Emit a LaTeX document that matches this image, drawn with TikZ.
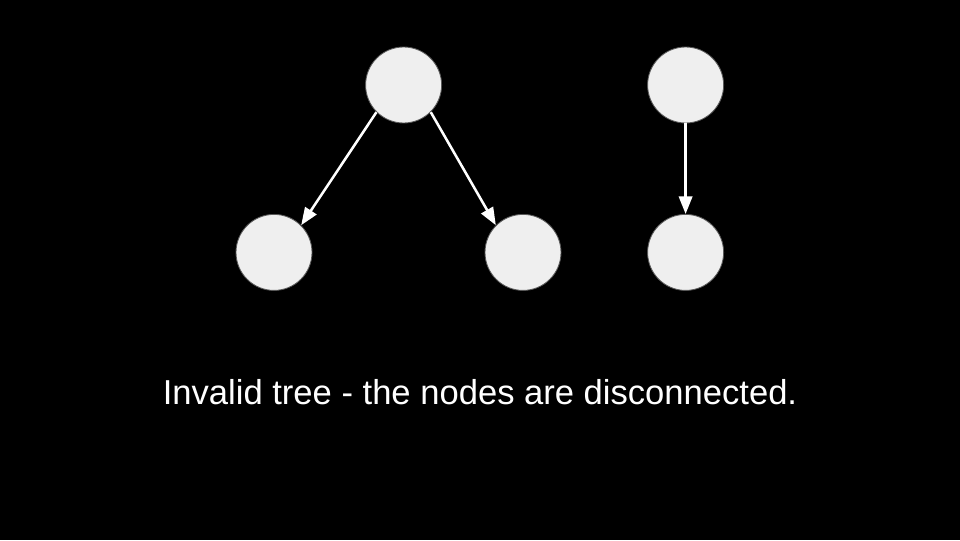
\documentclass[tikz,border=0pt]{standalone}
\usepackage{fontspec}
\setmainfont{Liberation Sans}
\usetikzlibrary{arrows.meta}
\definecolor{nodefill}{HTML}{EFEFEF}
\definecolor{nodeline}{HTML}{595959}
\tikzset{
  treenode/.style={circle, fill=nodefill, draw=nodeline, line width=0.6pt, minimum size=1.9cm, inner sep=0pt},
  edge/.style={draw=white, line width=1.8pt, -{Triangle[length=12.5pt,width=9.5pt]}},
}

\begin{document}
\begin{tikzpicture}
\fill[black] (0,0) rectangle (24,13.5);
\node[treenode] (root) at (10.09,11.375) {};
\node[treenode] (left) at (6.85,7.19) {};
\node[treenode] (right) at (13.075,7.19) {};
\node[treenode] (loneroot) at (17.14,11.375) {};
\node[treenode] (lonechild) at (17.14,7.19) {};
\draw[edge] (root.225) -- (left.45);
\draw[edge] (root.315) -- (right.135);
\draw[edge] (loneroot.south) -- (lonechild.north);
\node[text=white, anchor=base, inner sep=0pt, font=\fontsize{24.6}{29}\selectfont] (caption) at (12,3.4) {Invalid tree - the nodes are disconnected.};
\end{tikzpicture}
\end{document}
